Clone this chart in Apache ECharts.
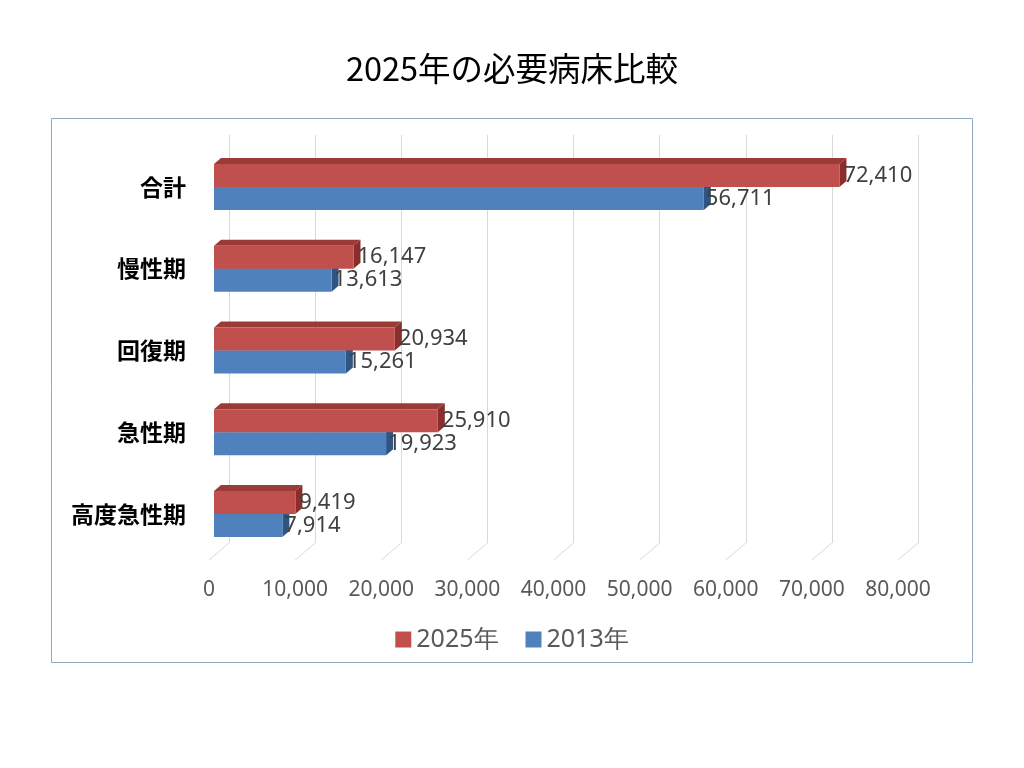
<!DOCTYPE html>
<html>
<head>
<meta charset="utf-8">
<script src="https://cdn.jsdelivr.net/npm/echarts@6/dist/echarts.min.js"></script>
<style>html,body{margin:0;padding:0;background:#fff;}#c{width:1024px;height:768px;}</style>
</head>
<body>
<div id="c"></div>
<script>
const categories = ['合計', '慢性期', '回復期', '急性期', '高度急性期'];
const values2025 = [72410, 16147, 20934, 25910, 9419];
const values2013 = [56711, 13613, 15261, 19923, 7914];
const seriesNames = ['2025年', '2013年'];
const tickValues = [0, 10000, 20000, 30000, 40000, 50000, 60000, 70000, 80000];

const chart = echarts.init(document.getElementById('c'));
const BAR_W = 23, DX = 7, DY = 6;
const fmt = v => Number(v).toLocaleString('en-US');

function facesRenderer(top, side, sign) {
  return function (params, api) {
    const v = api.value(0), idx = api.value(1);
    const p1 = api.coord([v, idx]);
    const p0 = api.coord([0, idx]);
    const yTop = sign < 0 ? p1[1] - BAR_W : p1[1];
    const yBot = yTop + BAR_W;
    const x0 = p0[0], x1 = p1[0];
    return {
      type: 'group',
      children: [
        { type: 'polygon', shape: { points: [[x0, yTop], [x0 + DX, yTop - DY], [x1 + DX, yTop - DY], [x1, yTop]] }, style: { fill: top } },
        { type: 'polygon', shape: { points: [[x1, yTop], [x1 + DX, yTop - DY], [x1 + DX, yBot - DY], [x1, yBot]] }, style: { fill: side } }
      ]
    };
  };
}

const option = {
  backgroundColor: '#ffffff',
  animation: false,
  title: {
    text: '2025年の必要病床比較',
    left: 'center',
    top: 47,
    textStyle: { fontSize: 32.5, fontWeight: 'normal', color: '#000', fontFamily: 'Noto Sans CJK JP' }
  },
  graphic: [{
    type: 'rect', shape: { x: 51.5, y: 118.5, width: 921, height: 544 },
    style: { fill: 'none', stroke: '#8EA9C1', lineWidth: 1 }, z: 0
  }],
  legend: {
    data: seriesNames,
    left: 'center',
    top: 622,
    icon: 'rect',
    itemWidth: 16,
    itemHeight: 16,
    itemGap: 27,
    textStyle: { fontSize: 25, color: '#595959', fontFamily: 'Noto Sans' }
  },
  grid: [
    { left: 214, top: 146, width: 691, height: 409, outerBoundsMode: 'none' },
    { left: 229, top: 135, width: 689, height: 408, outerBoundsMode: 'none' },
    { left: 209, top: 135, width: 689, height: 425, outerBoundsMode: 'none' }
  ],
  xAxis: [
    { gridIndex: 0, type: 'value', min: 0, max: 80000, interval: 10000, axisLine: { show: false }, axisTick: { show: false }, axisLabel: { show: false }, splitLine: { show: false } },
    { gridIndex: 1, type: 'value', min: 0, max: 80000, interval: 10000, axisLine: { show: false }, axisTick: { show: false }, axisLabel: { show: false }, splitLine: { show: true, lineStyle: { color: '#D9D9D9', width: 1 } } },
    { gridIndex: 2, type: 'value', min: 0, max: 80000, interval: 10000, axisLine: { show: false }, axisTick: { show: false }, splitLine: { show: false },
      axisLabel: { show: true, margin: 20, fontSize: 21, color: '#595959', fontFamily: 'Noto Sans', formatter: v => fmt(v) } }
  ],
  yAxis: [
    { gridIndex: 0, type: 'category', data: categories, inverse: true, axisLine: { show: false }, axisTick: { show: false }, splitLine: { show: false },
      axisLabel: { margin: 28, fontSize: 23, fontWeight: 'bold', color: '#000', fontFamily: 'Noto Sans CJK JP' } },
    { gridIndex: 1, type: 'value', min: 0, max: 1, show: false },
    { gridIndex: 2, type: 'value', min: 0, max: 1, show: false }
  ],
  series: [
    {
      name: seriesNames[0], type: 'bar', xAxisIndex: 0, yAxisIndex: 0, data: values2025,
      barWidth: BAR_W, barGap: '0%', z: 6,
      itemStyle: { color: '#C0504D' },
      label: { show: true, position: 'right', distance: 4, fontSize: 22, color: '#404040', fontFamily: 'Noto Sans', formatter: p => fmt(p.value) }
    },
    {
      name: seriesNames[1], type: 'bar', xAxisIndex: 0, yAxisIndex: 0, data: values2013,
      barWidth: BAR_W, barGap: '0%', z: 3,
      itemStyle: { color: '#4F81BD' },
      label: { show: true, position: 'right', distance: 2, fontSize: 22, color: '#404040', fontFamily: 'Noto Sans', formatter: p => fmt(p.value) }
    },
    {
      name: seriesNames[0], type: 'custom', xAxisIndex: 0, yAxisIndex: 0, z: 5,
      data: values2025.map((v, i) => [v, i]),
      itemStyle: { color: '#C0504D' },
      renderItem: facesRenderer('#9A3B38', '#8A2E2C', -1)
    },
    {
      name: seriesNames[1], type: 'custom', xAxisIndex: 0, yAxisIndex: 0, z: 2,
      data: values2013.map((v, i) => [v, i]),
      itemStyle: { color: '#4F81BD' },
      renderItem: facesRenderer('#3C6697', '#2E5584', 1)
    },
    {
      type: 'custom', xAxisIndex: 1, yAxisIndex: 1, z: 1, silent: true,
      data: tickValues.map(v => [v, 0]),
      renderItem: function (params, api) {
        const p = api.coord([api.value(0), 0]);
        return { type: 'line', shape: { x1: p[0], y1: p[1], x2: p[0] - 20, y2: p[1] + 17 }, style: { stroke: '#D9D9D9', lineWidth: 1 } };
      }
    }
  ]
};
chart.setOption(option);
</script>
</body>
</html>
